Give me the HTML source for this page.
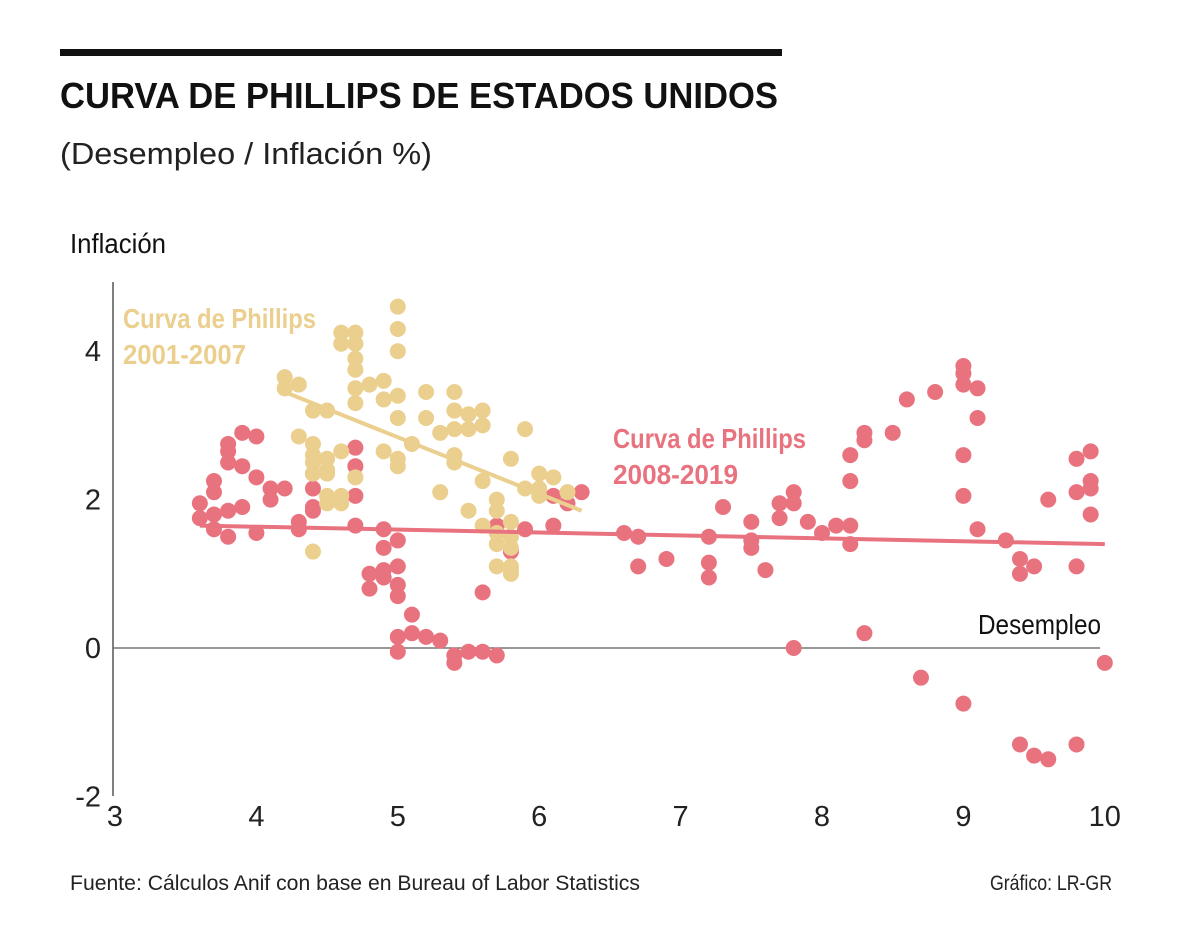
<!DOCTYPE html>
<html><head><meta charset="utf-8"><style>
body{margin:0;background:#fff;width:1200px;height:945px;overflow:hidden;font-family:"Liberation Sans",sans-serif}
</style></head><body>
<svg id="chart" width="1200" height="945" xmlns="http://www.w3.org/2000/svg" font-family="Liberation Sans, sans-serif">
<rect x="60" y="49" width="722" height="7" fill="#111"/>
<text x="60" y="108" font-weight="bold" font-size="36" fill="#111" textLength="718" lengthAdjust="spacingAndGlyphs">CURVA DE PHILLIPS DE ESTADOS UNIDOS</text>
<text x="60" y="164" font-size="31" fill="#222" textLength="372" lengthAdjust="spacingAndGlyphs">(Desempleo / Inflación %)</text>
<text x="70" y="253" font-size="28" fill="#111" textLength="96" lengthAdjust="spacingAndGlyphs">Inflación</text>
<text x="978" y="634" font-size="28" fill="#111" textLength="123" lengthAdjust="spacingAndGlyphs">Desempleo</text>
<line x1="113" y1="282" x2="113" y2="796" stroke="#555" stroke-width="1.5"/>
<line x1="113" y1="648" x2="1100" y2="648" stroke="#777" stroke-width="1.5"/>
<g id="ticks"></g><g id="pts"></g>
<text x="123" y="328" font-weight="bold" font-size="28" fill="#ebcf8e" textLength="193" lengthAdjust="spacingAndGlyphs">Curva de Phillips</text>
<text x="123" y="364" font-weight="bold" font-size="28" fill="#ebcf8e" textLength="123" lengthAdjust="spacingAndGlyphs">2001-2007</text>
<text x="613" y="448" font-weight="bold" font-size="28" fill="#e8737f" textLength="193" lengthAdjust="spacingAndGlyphs">Curva de Phillips</text>
<text x="613" y="484" font-weight="bold" font-size="28" fill="#e8737f" textLength="125" lengthAdjust="spacingAndGlyphs">2008-2019</text>
<text x="70" y="890" font-size="21" fill="#222" textLength="570" lengthAdjust="spacingAndGlyphs">Fuente: Cálculos Anif con base en Bureau of Labor Statistics</text>
<text x="990" y="890" font-size="21" fill="#222" textLength="122" lengthAdjust="spacingAndGlyphs">Gráfico: LR-GR</text>
</svg>
<script>
const xTicks=[3,4,5,6,7,8,9,10];
const yTicks=[-2,0,2,4];
const redX=[3.6,3.6,3.7,3.7,3.7,3.7,3.8,3.8,3.8,3.8,3.8,3.9,3.9,3.9,4.0,4.0,4.0,4.1,4.1,4.2,4.3,4.3,4.4,4.4,4.4,4.4,4.7,4.7,4.7,4.7,4.8,4.8,4.9,4.9,4.9,4.9,5.0,5.0,5.0,5.0,5.0,5.0,5.1,5.1,5.2,5.3,5.4,5.4,5.5,5.6,5.6,5.7,5.7,5.8,5.9,6.1,6.1,6.2,6.3,
6.6,6.7,6.7,6.9,7.2,7.2,7.2,7.3,7.5,7.5,7.5,7.6,7.7,7.7,7.8,7.8,7.8,7.9,8.0,8.1,8.2,8.2,8.2,8.2,8.3,8.3,8.3,8.5,8.6,8.7,8.8,9.0,9.0,9.0,9.0,9.0,9.0,9.1,9.1,9.1,9.3,9.4,9.4,9.4,9.5,9.5,9.6,9.6,9.8,9.8,9.8,9.8,9.9,9.9,9.9,9.9,10.0];
const redY=[1.95,1.75,2.25,2.1,1.8,1.6,2.75,2.65,2.5,1.85,1.5,2.9,2.45,1.9,2.3,2.85,1.55,2.15,2.0,2.15,1.7,1.6,2.35,2.15,1.9,1.85,2.7,2.45,2.05,1.65,1.0,0.8,1.6,1.35,1.05,0.95,1.45,1.1,0.85,0.7,0.15,-0.05,0.45,0.2,0.15,0.1,-0.1,-0.2,-0.05,0.75,-0.05,1.65,-0.1,1.3,1.6,2.05,1.65,1.95,2.1,
1.55,1.5,1.1,1.2,1.5,1.15,0.95,1.9,1.7,1.45,1.35,1.05,1.95,1.75,2.1,1.95,0.0,1.7,1.55,1.65,2.6,2.25,1.65,1.4,2.9,2.8,0.2,2.9,3.35,-0.4,3.45,3.8,3.7,3.55,2.6,2.05,-0.75,3.5,3.1,1.6,1.45,1.2,1.0,-1.3,1.1,-1.45,2.0,-1.5,2.55,2.1,1.1,-1.3,2.65,2.25,2.15,1.8,-0.2];
const yelX=[5.0,5.0,5.0,4.6,4.7,4.6,4.7,4.7,4.7,4.2,4.2,4.3,4.7,4.7,4.8,4.9,4.9,5.0,5.0,5.2,5.2,5.4,5.4,5.5,5.6,5.6,5.4,5.3,5.5,5.9,4.4,4.5,4.3,4.4,4.4,4.5,4.6,4.4,4.5,4.5,4.4,4.9,5.0,5.0,5.1,5.4,5.4,5.8,5.3,5.5,5.6,5.9,6.0,6.0,6.1,6.0,6.2,4.5,4.5,4.6,4.6,4.7,4.4,5.7,5.7,5.8,5.6,5.7,5.8,5.7,5.8,5.7,5.8,5.8,5.8];
const yelY=[4.6,4.3,4.0,4.25,4.25,4.1,4.1,3.9,3.75,3.65,3.5,3.55,3.5,3.3,3.55,3.6,3.35,3.4,3.1,3.45,3.1,3.45,3.2,3.15,3.2,3.0,2.95,2.9,2.95,2.95,3.2,3.2,2.85,2.75,2.6,2.55,2.65,2.5,2.4,2.35,2.35,2.65,2.55,2.45,2.75,2.6,2.5,2.55,2.1,1.85,2.25,2.15,2.35,2.15,2.3,2.05,2.1,2.05,1.95,1.95,2.05,2.3,1.3,2.0,1.85,1.7,1.65,1.55,1.5,1.4,1.35,1.1,1.05,1.1,1.0];
const yelTrendX=[4.2,6.3], yelTrendY=[3.45,1.85];
const redTrendX=[3.6,10.0], redTrendY=[1.65,1.4];
const sx=v=>115+(v-3)*141.4, sy=v=>648-v*74.2;
const NS='http://www.w3.org/2000/svg';
const tk=document.getElementById('ticks'), pts=document.getElementById('pts');
function mk(tag,attrs,parent){const e=document.createElementNS(NS,tag);for(const k in attrs)e.setAttribute(k,attrs[k]);parent.appendChild(e);return e;}
xTicks.forEach(v=>{const t=mk('text',{x:sx(v),y:826,'text-anchor':'middle','font-size':'29',fill:'#222'},tk);t.textContent=v;

});
yTicks.forEach(v=>{const t=mk('text',{x:101,y:sy(v)+10,'text-anchor':'end','font-size':'29',fill:'#222'},tk);t.textContent=v;

});
redX.forEach((x,i)=>{const c=mk('circle',{cx:sx(x),cy:sy(redY[i]),r:8,fill:'#e8737f'},pts);

});
yelX.forEach((x,i)=>{const c=mk('circle',{cx:sx(x),cy:sy(yelY[i]),r:8,fill:'#ebcf8e'},pts);

});
const l1=mk('line',{x1:sx(redTrendX[0]),y1:sy(redTrendY[0]),x2:sx(redTrendX[1]),y2:sy(redTrendY[1]),stroke:'#e8737f','stroke-width':4},pts);


const l2=mk('line',{x1:sx(yelTrendX[0]),y1:sy(yelTrendY[0]),x2:sx(yelTrendX[1]),y2:sy(yelTrendY[1]),stroke:'#ebcf8e','stroke-width':4},pts);


</script>
</body></html>
